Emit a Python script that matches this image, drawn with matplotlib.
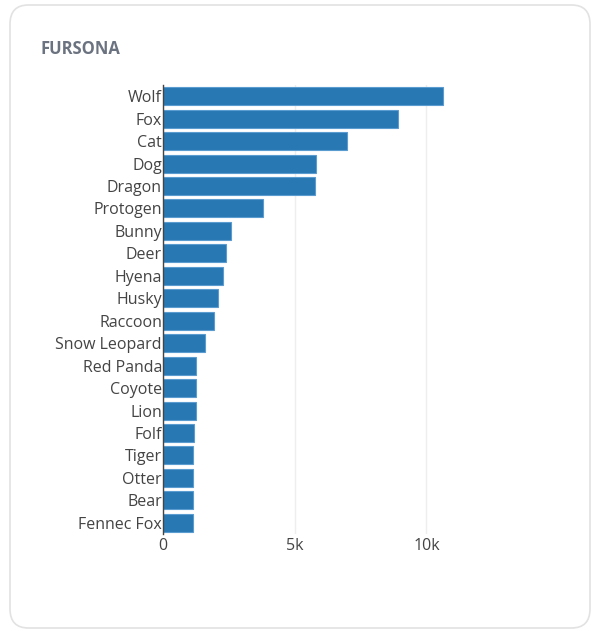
import matplotlib.pyplot as plt
from matplotlib.patches import FancyBboxPatch

plt.rcParams['font.family'] = ['Open Sans', 'DejaVu Sans']

# data
animals = ['Wolf', 'Fox', 'Cat', 'Dog', 'Dragon', 'Protogen', 'Bunny', 'Deer',
           'Hyena', 'Husky', 'Raccoon', 'Snow Leopard', 'Red Panda', 'Coyote',
           'Lion', 'Folf', 'Tiger', 'Otter', 'Bear', 'Fennec Fox']
counts = [10636, 8928, 6970, 5814, 5769, 3795, 2580, 2371, 2284, 2091,
          1928, 1572, 1261, 1255, 1231, 1170, 1140, 1138, 1135, 1125]
xticks = [0, 5000, 10000]
xtick_labels = ['0', '5k', '10k']

W, H = 614, 638
fig = plt.figure(figsize=(W / 100, H / 100), dpi=100)
fig.patch.set_facecolor('white')

# card background
card = FancyBboxPatch((10 / W, 10 / H), 580 / W, 623 / H,
                      boxstyle='round,pad=0,rounding_size=0.03',
                      transform=fig.transFigure, facecolor='white',
                      edgecolor='#e2e2e2', linewidth=1.2, zorder=-5)
fig.patches.append(card)

fig.text(40 / W, 1 - 49 / H, 'FURSONA', fontsize=12, fontweight='bold',
         color='#6b7280', va='center', ha='left')

ax = fig.add_axes([163.3 / W, 1 - 534 / H, (458 - 163.3) / W, (534 - 85) / H])
ax.set_facecolor('none')
ax.set_zorder(2)

ypos = list(range(len(animals)))
ax.barh(ypos, counts, height=0.8, color='#2878b4', edgecolor='#5a9bd0',
        linewidth=0.8, zorder=3)
ax.set_ylim(len(animals) - 0.5, -0.5)
ax.set_xlim(0, 11200)

ax.set_yticks(ypos)
ax.set_yticklabels(animals)
ax.set_xticks(xticks)
ax.set_xticklabels(xtick_labels)
ax.tick_params(axis='both', length=0, labelsize=11.5, labelcolor='#444444')
ax.tick_params(axis='y', pad=1)
ax.tick_params(axis='x', pad=3)

ax.grid(axis='x', color='#eeeeee', linewidth=1, zorder=0)
for side in ['top', 'right', 'bottom']:
    ax.spines[side].set_visible(False)
ax.spines['left'].set_color('#444444')
ax.spines['left'].set_linewidth(1)
ax.spines['left'].set_zorder(4)

fig.savefig('out.png', dpi=100)
